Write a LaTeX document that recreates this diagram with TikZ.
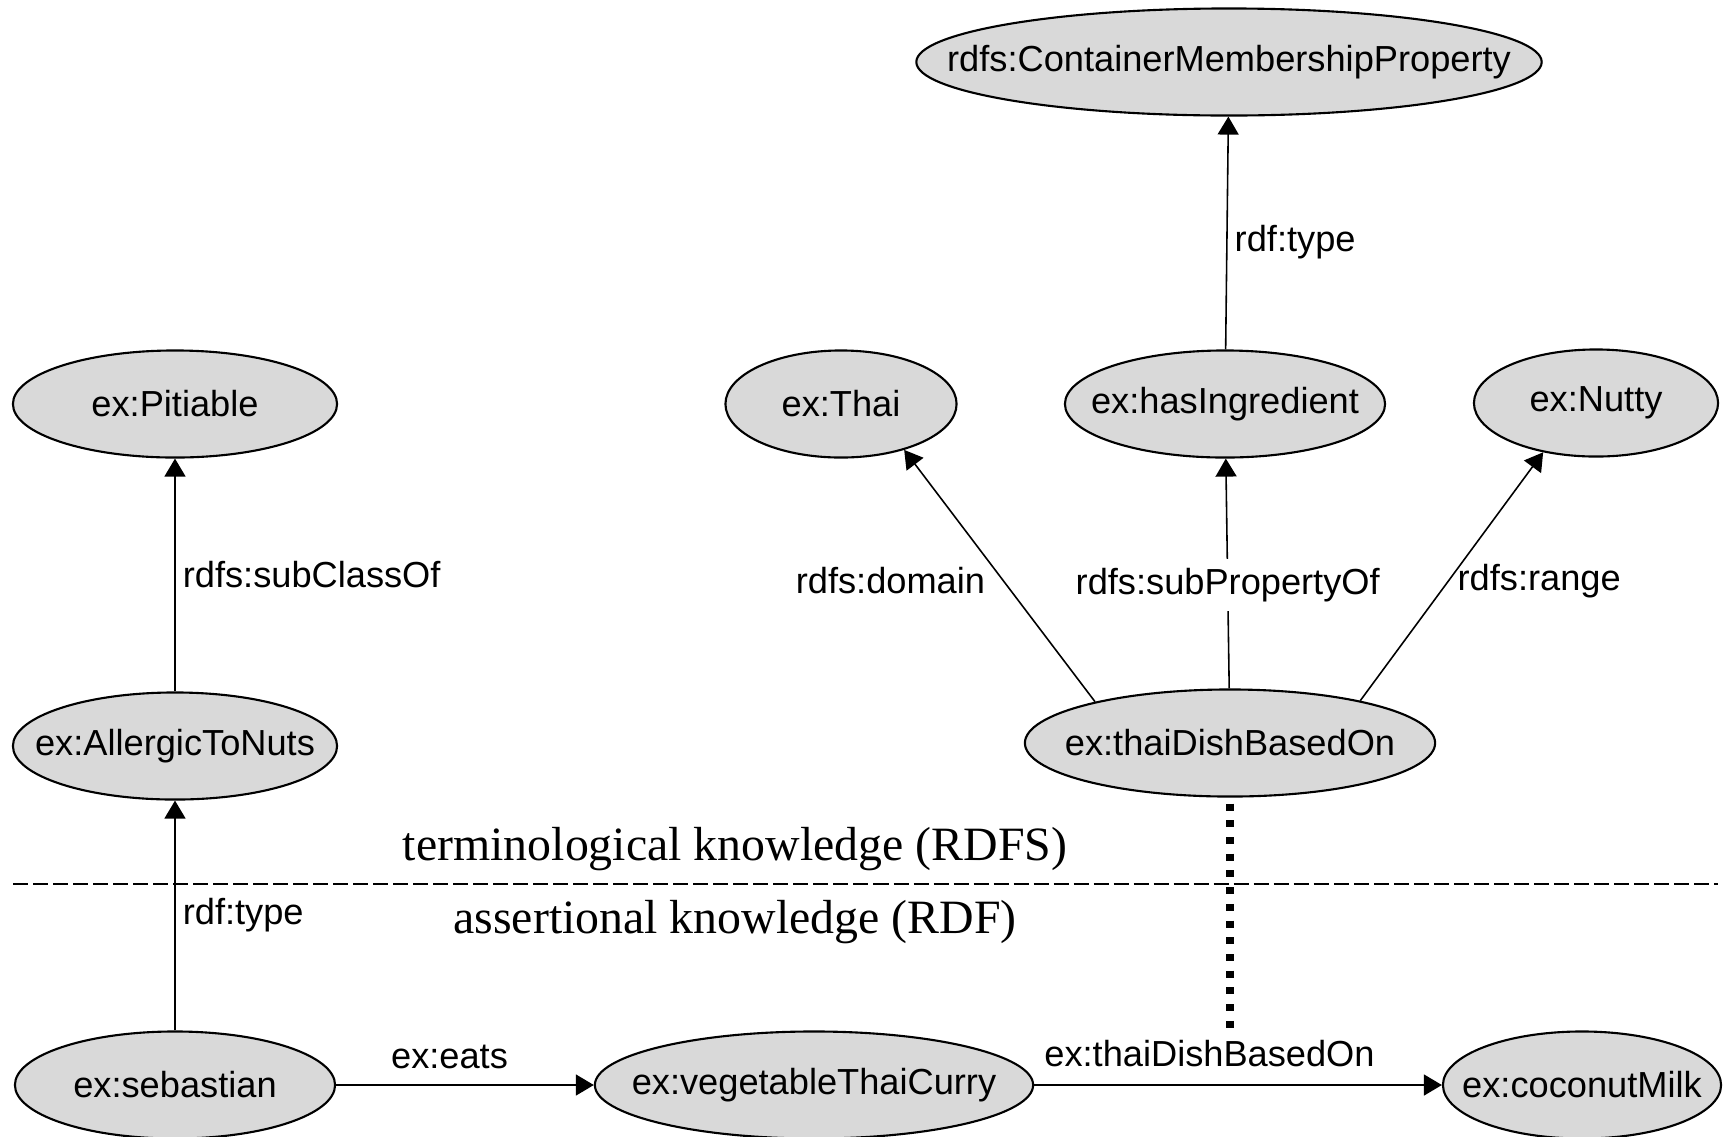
\documentclass[tikz,border=0pt]{standalone}
\usepackage{fontspec}
\setmainfont{Liberation Serif}
\setsansfont{Liberation Sans}
\usetikzlibrary{arrows.meta,shapes.geometric}
\definecolor{resgray}{RGB}{217,217,217}
\tikzset{
  rdfgraph/.style={x=0.01cm,y=-0.01cm,font=\sffamily\fontsize{10.3}{12}\selectfont,>={Triangle[length=0.18cm,width=0.21cm]}},
  res/.style={ellipse,draw=black,fill=resgray,line width=0.6pt,inner sep=0pt,minimum height=1.07cm,
    execute at begin node={\hbox to 0pt\bgroup\hss},execute at end node={\hss\egroup}},
  prop/.style={inner sep=2pt},
  rel/.style={->,line width=0.45pt},
  layertext/.style={font=\rmfamily\fontsize{13.6}{16}\selectfont,anchor=base},
  divider/.style={line width=0.45pt,dash pattern=on 0.15cm off 0.05cm},
  instanceof/.style={line width=0.08cm,dash pattern=on 0.07cm off 0.097cm},
}
\begin{document}
\begin{tikzpicture}[rdfgraph]
\useasboundingbox (0,0) rectangle (1725,1136);
\node[res,minimum width=6.25cm] (cmp) at (1229,62) {rdfs:ContainerMembershipProperty};
\node[res,minimum width=3.24cm] (pit) at (175,404) {ex:Pitiable};
\node[res,minimum width=2.31cm] (thai) at (841,404) {ex:Thai};
\node[res,minimum width=3.2cm] (hasing) at (1225,404) {ex:hasIngredient};
\node[res,minimum width=2.44cm] (nutty) at (1596,403) {ex:Nutty};
\node[res,minimum width=3.24cm] (allergic) at (175,746) {ex:AllergicToNuts};
\node[res,minimum width=4.1cm] (tdbo) at (1230,743) {ex:thaiDishBasedOn};
\node[res,minimum width=3.2cm] (seb) at (175,1085) {ex:sebastian};
\node[res,minimum width=4.38cm] (curry) at (814,1085) {ex:vegetableThaiCurry};
\node[res,minimum width=2.78cm] (milk) at (1582,1085) {ex:coconutMilk};
\draw[rel] (hasing) -- node[prop,right,pos=0.46] {rdf:type} (cmp);
\draw[rel] (allergic) -- node[prop,right] {rdfs:subClassOf} (pit);
\draw[rel] (seb) -- node[prop,right] {rdf:type} (allergic);
\draw[rel] (tdbo.163) -- node[prop,left=3pt,pos=0.48] {rdfs:domain} (thai.-36);
\draw[rel] (tdbo) -- node[prop,fill=white,inner sep=2.5pt,pos=0.45] {rdfs:subPropertyOf} (hasing);
\draw[rel] (tdbo.18) -- node[prop,right=0.5pt,pos=0.48] {rdfs:range} (nutty.-137);
\draw[rel] (seb) -- node[prop,above=2.5pt,pos=0.44] {ex:eats} (curry);
\draw[rel] (curry) -- node[prop,above=3pt,pos=0.43] {ex:thaiDishBasedOn} (milk);
\coordinate (divl) at (13,884);
\coordinate (divr) at (1718,884);
\draw[divider] (divl) -- (divr);
\node[layertext] (tbox) at (735,860) {terminological knowledge (RDFS)};
\node[layertext] (abox) at (735,933) {assertional knowledge (RDF)};
\coordinate (dotend) at (1230,1028);
\draw[instanceof] ([yshift=-0.06cm]tdbo.south) -- (dotend);
\end{tikzpicture}
\end{document}
